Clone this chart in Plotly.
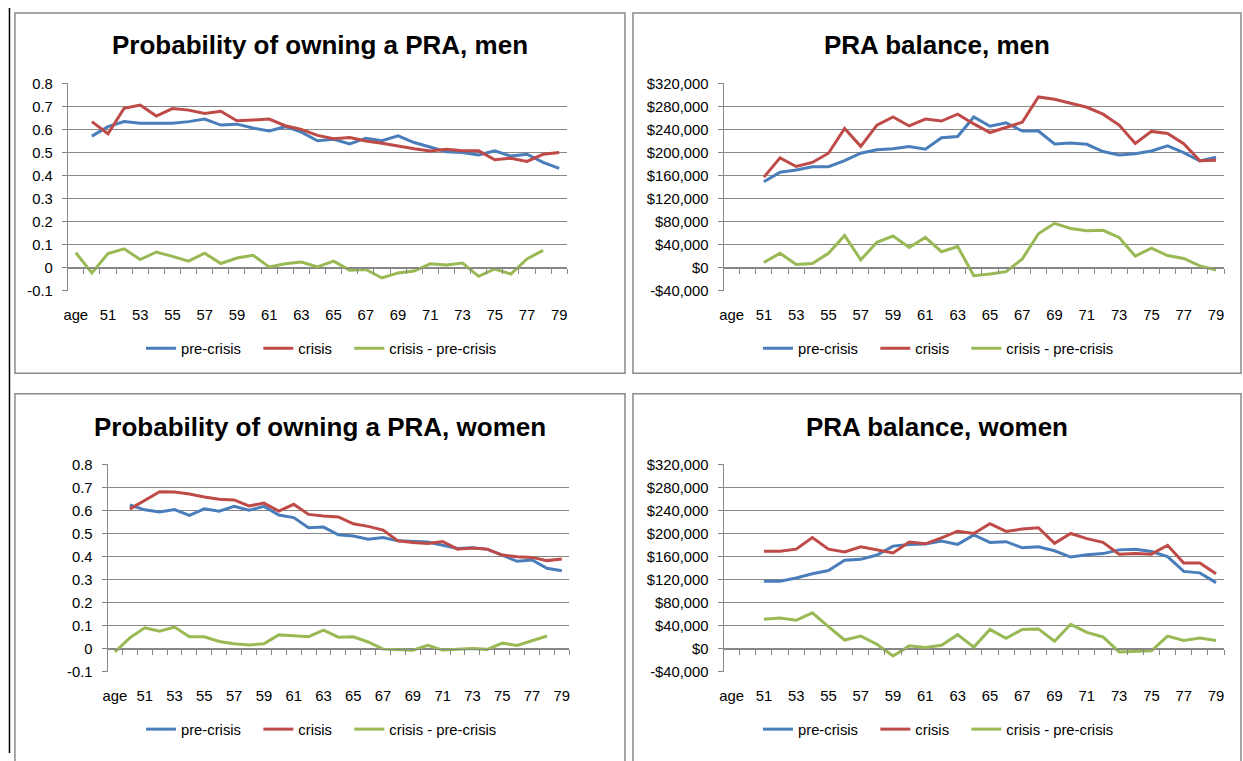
import plotly.graph_objects as go

# ---------------- data ----------------
categories = ["age", "50", "51", "52", "53", "54", "55", "56", "57", "58", "59",
              "60", "61", "62", "63", "64", "65", "66", "67", "68", "69",
              "70", "71", "72", "73", "74", "75", "76", "77", "78", "79"]
x_tick_labels = categories[0::2]

# probability panels: levels plotted at ages 50..79, difference column plotted from "age" row
prob_x = categories[1:]
prob_diff_x = categories[:30]
# balance panels: ages 51..79
bal_x = categories[2:]

men_prob_pre = [0.572, 0.613, 0.635, 0.628, 0.628, 0.628, 0.635, 0.646, 0.620, 0.624,
                0.607, 0.594, 0.613, 0.589, 0.552, 0.558, 0.538, 0.563, 0.552, 0.573,
                0.544, 0.524, 0.504, 0.501, 0.490, 0.508, 0.485, 0.493, 0.458, 0.432]
men_prob_crisis = [0.635, 0.582, 0.693, 0.707, 0.659, 0.692, 0.685, 0.670, 0.680, 0.639,
                   0.642, 0.646, 0.617, 0.601, 0.575, 0.561, 0.566, 0.551, 0.541, 0.528,
                   0.517, 0.507, 0.515, 0.508, 0.508, 0.469, 0.476, 0.462, 0.493, 0.501]
men_prob_diff = [0.065, -0.023, 0.061, 0.082, 0.035, 0.068, 0.049, 0.028, 0.063, 0.018,
                 0.042, 0.054, 0.003, 0.017, 0.024, 0.003, 0.028, -0.011, -0.008, -0.045,
                 -0.023, -0.015, 0.017, 0.011, 0.020, -0.038, -0.006, -0.028, 0.038, 0.075]

women_prob_pre = [0.624, 0.603, 0.594, 0.604, 0.579, 0.607, 0.597, 0.618, 0.601, 0.618,
                  0.580, 0.569, 0.525, 0.528, 0.494, 0.489, 0.475, 0.482, 0.468, 0.466,
                  0.463, 0.449, 0.435, 0.438, 0.431, 0.406, 0.379, 0.385, 0.349, 0.338]
women_prob_crisis = [0.606, 0.644, 0.682, 0.680, 0.672, 0.659, 0.649, 0.646, 0.620, 0.632,
                     0.597, 0.627, 0.583, 0.576, 0.572, 0.542, 0.531, 0.515, 0.468, 0.461,
                     0.456, 0.465, 0.432, 0.437, 0.432, 0.406, 0.399, 0.396, 0.382, 0.389]
women_prob_diff = [-0.015, 0.046, 0.090, 0.075, 0.093, 0.051, 0.051, 0.030, 0.020, 0.015,
                   0.020, 0.059, 0.055, 0.051, 0.080, 0.049, 0.051, 0.028, -0.003, -0.007,
                   -0.008, 0.014, -0.007, -0.004, 0.000, -0.004, 0.023, 0.013, 0.035, 0.054]

men_bal_pre = [149500, 166000, 170000, 175500, 175500, 186000, 199000, 205000, 207000, 210500,
               206000, 226000, 228000, 262000, 246000, 252000, 237500, 237500, 215000, 217000,
               214500, 202000, 196000, 198000, 203000, 212000, 200000, 185500, 192000]
men_bal_crisis = [157500, 191000, 176000, 183000, 199000, 242000, 211000, 248000, 262000, 246500,
                  258500, 255000, 267000, 250000, 235000, 244000, 253000, 297000, 293000, 286000,
                  279000, 267000, 248000, 216000, 237000, 233500, 215500, 186000, 187000]
men_bal_diff = [9000, 25000, 5600, 7300, 25000, 56000, 13500, 44000, 55000, 35000,
                52500, 27700, 36700, -14000, -11000, -7000, 15000, 59000, 77000, 68000,
                64000, 65000, 52500, 20000, 34000, 21000, 16000, 3000, -4000]

women_bal_pre = [117000, 117000, 122500, 130000, 135500, 153500, 155000, 162500, 178000, 181000,
                 181700, 187000, 181000, 197500, 184500, 185700, 175000, 177000, 170000, 159000,
                 163000, 165000, 171500, 172700, 168700, 159700, 134000, 131500, 114500]
women_bal_crisis = [169000, 169000, 172700, 193000, 172700, 168000, 177000, 172000, 166000, 185000,
                    182000, 192500, 204000, 200000, 217000, 203700, 207700, 210000, 183000, 200000,
                    191000, 184500, 164000, 165000, 164000, 179500, 148500, 148500, 130000]
women_bal_diff = [51000, 53000, 49000, 62000, 38000, 14700, 21400, 7300, -13000, 4500,
                  1700, 5600, 24000, 2300, 33000, 17500, 33000, 34000, 12400, 42000,
                  28000, 20000, -6000, -4500, -4000, 21400, 14000, 18000, 14000]

prob_ticks = [-0.1, 0, 0.1, 0.2, 0.3, 0.4, 0.5, 0.6, 0.7, 0.8]
prob_tick_labels = ["-0.1", "0", "0.1", "0.2", "0.3", "0.4", "0.5", "0.6", "0.7", "0.8"]
bal_ticks = [-40000, 0, 40000, 80000, 120000, 160000, 200000, 240000, 280000, 320000]
bal_tick_labels = ["-$40,000", "$0", "$40,000", "$80,000", "$120,000", "$160,000",
                   "$200,000", "$240,000", "$280,000", "$320,000"]

series_names = ["pre-crisis", "crisis", "crisis - pre-crisis"]
titles = ["Probability of owning a PRA, men", "PRA balance, men",
          "Probability of owning a PRA, women", "PRA balance, women"]

# ---------------- styling / layout ----------------
W, H = 1243, 761
C_PRE, C_CRI, C_DIF = "#4A7EBB", "#BE4B48", "#98B954"
GRID = "#878787"
FONT = "Liberation Sans, Arial, sans-serif"
SMALL = 14.8
# extra trailing room after legend entries (Excel spaces its legend entries wider)
LEG_PAD = ["\u00a0\u00a0\u00a0", "\u00a0\u00a0\u00a0", ""]


def fx(px):
    return px / W


def fy(py):
    return 1 - py / H


panels = [
    dict(title=titles[0], box=(10, 5, 623, 373), plot=(63, 565, 77, 289),
         yr=(-0.1, 0.8), ticks=prob_ticks, labels=prob_tick_labels,
         series=[(prob_x, men_prob_pre), (prob_x, men_prob_crisis), (prob_diff_x, men_prob_diff)],
         tx=317, ty=38, ly=348, lx=318),
    dict(title=titles[1], box=(631, 5, 1242, 373), plot=(722, 1225, 77, 289),
         yr=(-40000, 320000), ticks=bal_ticks, labels=bal_tick_labels,
         series=[(bal_x, men_bal_pre), (bal_x, men_bal_crisis), (bal_x, men_bal_diff)],
         tx=937, ty=38, ly=348, lx=938),
    dict(title=titles[2], box=(10, 394, 623, 770), plot=(103, 567, 466, 678),
         yr=(-0.1, 0.8), ticks=prob_ticks, labels=prob_tick_labels,
         series=[(prob_x, women_prob_pre), (prob_x, women_prob_crisis), (prob_diff_x, women_prob_diff)],
         tx=317, ty=428, ly=737, lx=318),
    dict(title=titles[3], box=(631, 394, 1242, 770), plot=(722, 1225, 466, 678),
         yr=(-40000, 320000), ticks=bal_ticks, labels=bal_tick_labels,
         series=[(bal_x, women_bal_pre), (bal_x, women_bal_crisis), (bal_x, women_bal_diff)],
         tx=937, ty=428, ly=737, lx=938),
]

fig = go.Figure()
layout = dict(width=W, height=H, margin=dict(l=0, r=0, t=0, b=0),
              paper_bgcolor="white", plot_bgcolor="rgba(0,0,0,0)",
              showlegend=True, shapes=[], annotations=[])
colors = [C_PRE, C_CRI, C_DIF]
boundaries = [i - 0.5 for i in range(len(categories) + 1)]

for i, p in enumerate(panels):
    n = i + 1
    sfx = "" if n == 1 else str(n)
    xa, ya = "x" + sfx, "y" + sfx
    leg = "legend" + sfx
    ov = "x" + str(n + 4)

    for (xs, ys), name, col, padtxt in zip(p["series"], series_names, colors, LEG_PAD):
        fig.add_trace(go.Scatter(x=xs, y=ys, name=name + padtxt, mode="lines",
                                 line=dict(color=col, width=3), xaxis=xa, yaxis=ya,
                                 legend=leg, hovertemplate=name + ": %{y}<extra></extra>"))
    # empty helper trace to realise the zero-crossing category axis (tick marks at y=0)
    fig.add_trace(go.Scatter(x=[], y=[], xaxis=ov, yaxis=ya, showlegend=False,
                             hoverinfo="skip"))

    x0, x1, ytop, ybot = p["plot"]
    ydom = (fy(ybot), fy(ytop))
    rmin, rmax = p["yr"]
    pad = (rmax - rmin) * 0.0015
    zero_pos = ydom[0] + (0 - rmin) / (rmax - rmin) * (ydom[1] - ydom[0])

    layout["xaxis" + sfx] = dict(
        type="category", categoryorder="array", categoryarray=categories,
        range=[-0.5, len(categories) - 0.5], domain=[fx(x0), fx(x1)], anchor=ya,
        tickmode="array", tickvals=x_tick_labels, ticks="outside", ticklen=10,
        tickcolor="rgba(0,0,0,0)", showgrid=False, showline=False, zeroline=False,
        tickfont=dict(family=FONT, size=SMALL, color="#000"), tickangle=0)
    layout["yaxis" + sfx] = dict(
        domain=list(ydom), anchor=xa, range=[rmin - pad, rmax + pad],
        tickmode="array", tickvals=p["ticks"], ticktext=p["labels"],
        ticks="outside", ticklen=5, tickcolor=GRID, showline=True, linecolor=GRID,
        linewidth=1, showgrid=True, gridcolor=GRID, gridwidth=1, zeroline=False,
        ticklabelstandoff=6, tickfont=dict(family=FONT, size=SMALL, color="#000"))
    layout["xaxis" + str(n + 4)] = dict(
        type="linear", range=[-0.5, len(categories) - 0.5], overlaying=xa,
        anchor="free", position=zero_pos, side="bottom",
        tickmode="array", tickvals=boundaries, ticks="outside", ticklen=5,
        tickcolor=GRID, showticklabels=False, showline=True, linecolor=GRID,
        linewidth=1, showgrid=False, zeroline=False)
    layout[leg] = dict(orientation="h", x=fx(p["lx"]), y=fy(p["ly"]),
                       xanchor="center", yanchor="middle", bgcolor="rgba(0,0,0,0)",
                       font=dict(family=FONT, size=SMALL, color="#000"),
                       itemclick=False, itemdoubleclick=False)

    bx0, by0, bx1, by1 = p["box"]
    layout["shapes"].append(dict(type="rect", xref="paper", yref="paper",
                                 x0=fx(bx0), x1=fx(bx1), y0=fy(by1), y1=fy(by0),
                                 line=dict(color="#8A8A8A", width=1.5), layer="below"))
    layout["annotations"].append(dict(text="<b>" + p["title"] + "</b>", xref="paper",
                                      yref="paper", x=fx(p["tx"]), y=fy(p["ty"]),
                                      xanchor="center", yanchor="middle", showarrow=False,
                                      font=dict(family=FONT, size=26, color="#000")))

# black rule on the far left of the page
layout["shapes"].append(dict(type="line", xref="paper", yref="paper",
                             x0=fx(4.5), x1=fx(4.5), y0=0, y1=1,
                             line=dict(color="#000", width=1.5)))

fig.update_layout(**layout)
fig.write_html("out.html", config={"displayModeBar": False},
               post_script="document.body.style.margin='0px';"
                           "document.body.style.overflow='hidden';")
